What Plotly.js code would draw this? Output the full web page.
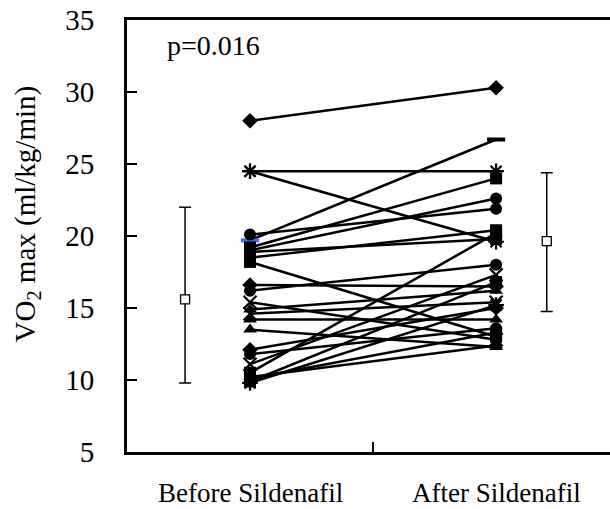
<!DOCTYPE html>
<html>
<head>
<meta charset="utf-8">
<script src="https://cdn.plot.ly/plotly-3.0.1.min.js"></script>
<style>html,body{margin:0;padding:0;background:#fff;}#chart{width:610px;height:509px;}</style>
</head>
<body>
<div id="chart"></div>
<script>
// Categories / positions
var categories = ["Before Sildenafil", "After Sildenafil"];
var yTicks = [5, 10, 15, 20, 25, 30, 35];
var yTitle = "VO<sub>2</sub> max (ml/kg/min)";

// Individual subjects: VO2 max before and after
var beforeVals = [28.0, 24.5, 24.5, 19.7, 20.1, 19.2, 19.0, 18.9, 18.5, 18.2, 16.6, 16.2, 15.4, 14.9, 14.6, 14.2, 13.5, 12.1, 11.8, 11.1, 10.5, 10.1, 9.8, 9.9, 10.2];
var afterVals  = [30.3, 24.5, 19.6, 26.7, 21.9, 24.0, 22.6, 19.8, 20.4, 13.0, 16.5, 18.0, 12.8, 16.2, 15.4, 14.2, 12.3, 15.0, 13.6, 17.3, 20.2, 13.3, 15.2, 16.8, 12.4];
var markerKinds = ["diamond","asterisk","asterisk","dash","circle","square","circle","square","square","square","diamond","circle","x","triangle","x","triangle","triangle","diamond","circle","x","square","square","asterisk","square","triangle"];

// Group summary (mean with upper / lower SD bound)
var groupMean  = [15.6, 19.65];
var groupUpper = [22.0, 24.4];
var groupLower = [9.8, 14.75];
var pText = "p=0.016";

var symbolMap = {
  diamond: {s: "diamond", open: false},
  square: {s: "square", open: false},
  triangle: {s: "triangle-up", open: false},
  circle: {s: "circle", open: false},
  x: {s: "x-thin-open", open: true},
  asterisk: {s: "asterisk-open", open: true},
  dash: {s: "line-ew-open", open: true}
};

var traces = [];
for (var i = 0; i < beforeVals.length; i++) {
  var m = symbolMap[markerKinds[i]];
  var colors = ["black", "black"];
  if (markerKinds[i] === "dash") colors = ["#3a6cf0", "black"];
  traces.push({
    type: "scatter", mode: "lines+markers",
    x: [1, 2], y: [beforeVals[i], afterVals[i]],
    line: {color: "black", width: 2.5},
    marker: {
      symbol: m.s, size: m.open ? 13 : 12, color: colors,
      line: {color: m.open ? colors : "black", width: m.open ? (markerKinds[i]==="dash" ? 4 : 2.2) : 0}
    },
    showlegend: false, hoverinfo: "skip"
  });
}

// Mean +/- SD markers
traces.push({
  type: "scatter", mode: "markers",
  x: [0.736, 2.206], y: groupMean,
  error_y: {
    type: "data", symmetric: false,
    array: groupUpper.map(function (u, k) { return u - groupMean[k]; }),
    arrayminus: groupLower.map(function (l, k) { return groupMean[k] - l; }),
    color: "black", thickness: 1.5, width: 6
  },
  marker: {symbol: "square", size: 9, color: "white", line: {color: "black", width: 1.3}},
  showlegend: false, hoverinfo: "skip"
});

var font = "Liberation Serif";
var layout = {
  width: 610, height: 509,
  margin: {l: 127, r: 0, t: 20, b: 57, pad: 0},
  paper_bgcolor: "white", plot_bgcolor: "white",
  font: {family: font, color: "black", size: 26},
  xaxis: {
    range: [0.5, 2.463], showgrid: false, zeroline: false,
    showline: true, linecolor: "black", linewidth: 3, mirror: true,
    tickvals: [1.5], showticklabels: false, ticks: "inside", ticklen: 10, tickwidth: 2, tickcolor: "black"
  },
  yaxis: {
    range: [5, 35], showgrid: false, zeroline: false,
    showline: true, linecolor: "black", linewidth: 3,
    tickvals: yTicks, ticks: "inside", ticklen: 10, tickwidth: 2, tickcolor: "black",
    tickfont: {family: font, size: 29, color: "black"},
    ticklabelstandoff: 24
  },
  annotations: [
    {x: -0.207, y: 0.55, xref: "paper", yref: "paper", text: yTitle, textangle: -90, showarrow: false,
     font: {family: font, size: 29, color: "black"}, xanchor: "center", yanchor: "middle"},
    {x: 1, y: -0.095, xref: "x", yref: "paper", text: categories[0], showarrow: false,
     font: {family: font, size: 27, color: "black"}, xanchor: "center", yanchor: "middle"},
    {x: 2, y: -0.095, xref: "x", yref: "paper", text: categories[1], showarrow: false,
     font: {family: font, size: 27, color: "black"}, xanchor: "center", yanchor: "middle"},
    {x: 0.654, y: 33.2, xref: "x", yref: "y", text: pText, showarrow: false,
     font: {family: font, size: 28, color: "black"}, xanchor: "left", yanchor: "middle"}
  ]
};

Plotly.newPlot("chart", traces, layout, {displayModeBar: false, staticPlot: true});
</script>
</body>
</html>
